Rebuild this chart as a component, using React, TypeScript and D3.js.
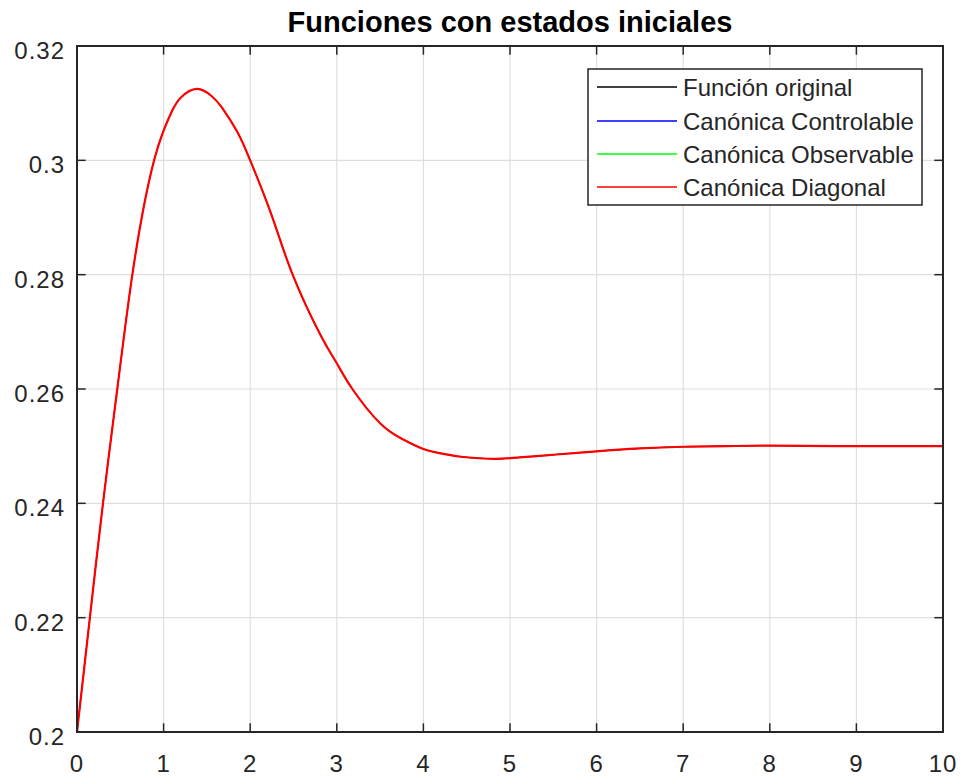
import React from "react";
import * as d3 from "d3";

const title = "Funciones con estados iniciales";
const tValues = [0, 0.15, 0.3, 0.465, 0.62, 0.76, 0.89, 1.0, 1.1, 1.2, 1.384, 1.55, 1.67, 1.85, 2.0, 2.25, 2.49, 2.81, 3.0, 3.18, 3.5, 3.75, 4.0, 4.25, 4.46, 4.77, 5.0, 5.5, 6.0, 6.5, 7.0, 7.5, 8.0, 9.0, 10.0];
const yValues = [0.2, 0.2202, 0.2400, 0.2600, 0.2780, 0.2910, 0.3000, 0.3052, 0.3087, 0.3110, 0.3125, 0.3113, 0.3093, 0.3050, 0.3000, 0.2903, 0.2800, 0.2695, 0.2645, 0.2600, 0.2540, 0.2513, 0.2495, 0.2486, 0.2481, 0.2478, 0.2479, 0.2485, 0.2491, 0.2496, 0.2499, 0.2500, 0.2501, 0.2500, 0.2500];
const seriesNames = ["Función original", "Canónica Controlable", "Canónica Observable", "Canónica Diagonal"];
const seriesColors = ["#000000", "#0000ff", "#00ff00", "#ff0000"];
const xTicks = [0, 1, 2, 3, 4, 5, 6, 7, 8, 9, 10];
const yTicks = [0.2, 0.22, 0.24, 0.26, 0.28, 0.3, 0.32];

const W = 964, H = 777;
const L = 77, R = 943, T = 46, B = 732;
const AX = "#262626";
const FONT = "'Liberation Sans', Arial, Helvetica, sans-serif";

export default function App() {
  const x = d3.scaleLinear().domain([0, 10]).range([L, R]);
  const y = d3.scaleLinear().domain([0.2, 0.32]).range([B, T]);
  const pts = tValues.map((t, i) => [t, yValues[i]] as [number, number]);
  const line = d3.line<[number, number]>().x(d => x(d[0])).y(d => y(d[1])).curve(d3.curveNatural);
  const path = line(pts) || "";
  const tick = 8.7;
  const fmtY = (v: number) => (Math.round(v * 100) / 100).toString();

  const legX = 588, legY = 69, legW = 334, legH = 136;
  const rowY = [87, 121, 154, 187];

  return (
    <svg width={W} height={H} style={{ position: "absolute", left: 0, top: 0, background: "#fff" }} fontFamily={FONT}>
      <rect x={0} y={0} width={W} height={H} fill="#fff" />
      <defs>
        <clipPath id="clip"><rect x={L} y={T} width={R - L} height={B - T} /></clipPath>
      </defs>
      {xTicks.map(v => (
        <line key={"gx" + v} x1={x(v)} x2={x(v)} y1={T} y2={B} stroke="#dfdfdf" strokeWidth={1.2} />
      ))}
      {yTicks.map(v => (
        <line key={"gy" + v} x1={L} x2={R} y1={y(v)} y2={y(v)} stroke="#dfdfdf" strokeWidth={1.2} />
      ))}
      <g clipPath="url(#clip)">
        {seriesColors.map((c, i) => (
          <path key={"s" + i} d={path} fill="none" stroke={c} strokeWidth={i === seriesColors.length - 1 ? 2.2 : 1.0} />
        ))}
      </g>
      {xTicks.map(v => (
        <g key={"tx" + v}>
          <line x1={x(v)} x2={x(v)} y1={B} y2={B - tick} stroke={AX} strokeWidth={1.5} />
          <line x1={x(v)} x2={x(v)} y1={T} y2={T + tick} stroke={AX} strokeWidth={1.5} />
          <text x={x(v)} y={772} textAnchor="middle" fontSize={24} letterSpacing={1} fill={AX}>{v}</text>
        </g>
      ))}
      {yTicks.map(v => (
        <g key={"ty" + v}>
          <line x1={L} x2={L + tick} y1={y(v)} y2={y(v)} stroke={AX} strokeWidth={1.5} />
          <line x1={R} x2={R - tick} y1={y(v)} y2={y(v)} stroke={AX} strokeWidth={1.5} />
          <text x={65} y={y(v) + 13} textAnchor="end" fontSize={24} letterSpacing={1} fill={AX}>{fmtY(v)}</text>
        </g>
      ))}
      <rect x={L} y={T} width={R - L} height={B - T} fill="none" stroke={AX} strokeWidth={2} />
      <text x={(L + R) / 2} y={32} textAnchor="middle" fontSize={29} fontWeight="bold" fill="#000">{title}</text>
      <rect x={legX} y={legY} width={legW} height={legH} fill="#fff" stroke={AX} strokeWidth={1.5} />
      {seriesNames.map((n, i) => (
        <g key={"l" + i}>
          <line x1={597} x2={677} y1={rowY[i]} y2={rowY[i]} stroke={seriesColors[i]} strokeWidth={1.5} />
          <text x={683} y={rowY[i] + 8.5} fontSize={24} fill={AX}>{n}</text>
        </g>
      ))}
    </svg>
  );
}
